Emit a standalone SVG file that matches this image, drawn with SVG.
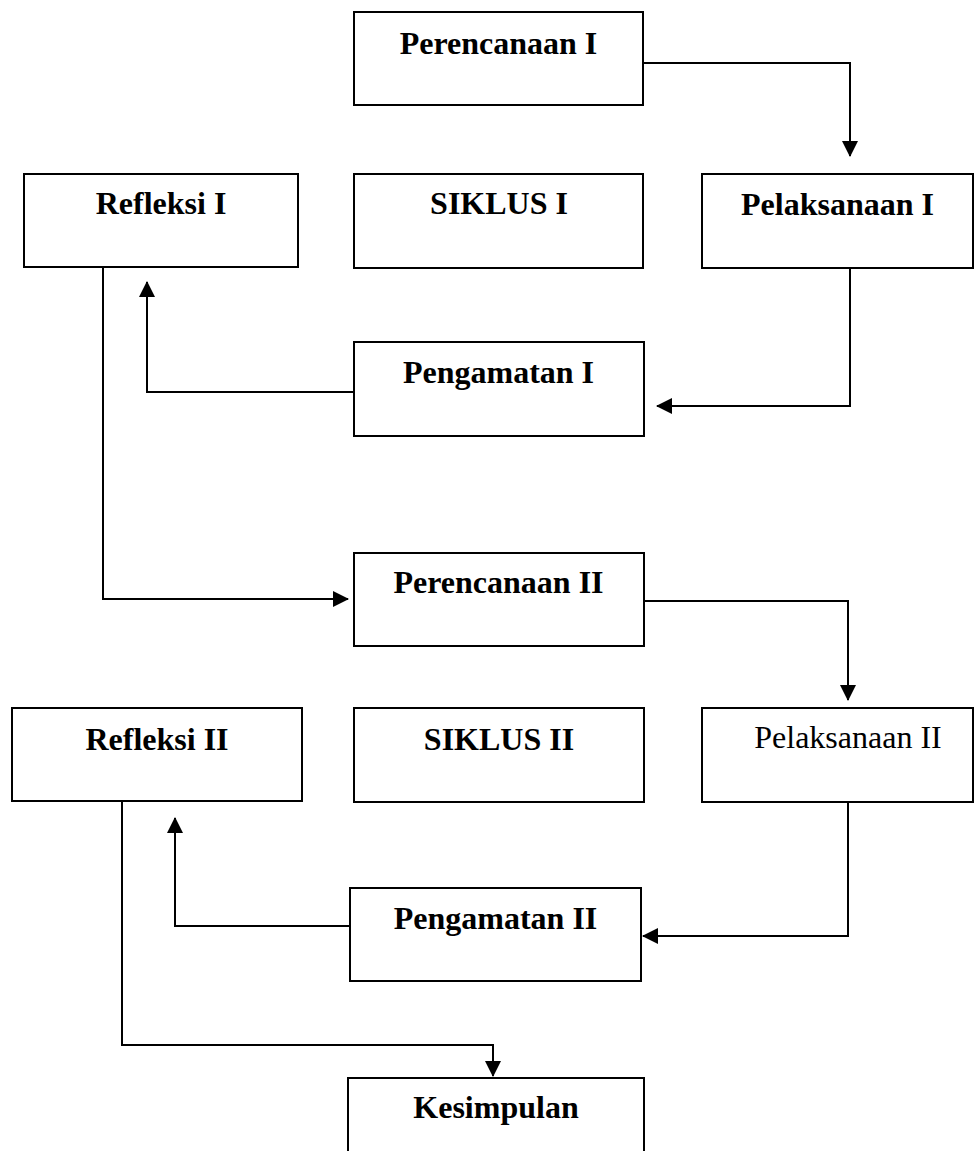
<svg xmlns="http://www.w3.org/2000/svg" width="980" height="1151" viewBox="0 0 980 1151">
<style>
rect.box{fill:#fff;stroke:#000;stroke-width:2}
text{font-family:"Liberation Serif","Times New Roman",serif;font-size:32px;text-anchor:middle;fill:#000}
text.b{font-weight:bold}
.conn path{fill:none;stroke:#000;stroke-width:2;marker-end:url(#arr)}
</style>
<defs>
<marker id="arr" markerUnits="userSpaceOnUse" markerWidth="16" markerHeight="16" refX="15" refY="8" orient="auto" viewBox="0 0 16 16">
<path d="M0,0 L16,8 L0,16 z" fill="#000"/>
</marker>
</defs>
<rect width="980" height="1151" fill="#fff"/>
<g id="perencanaan1"><rect class="box" x="354" y="12" width="289" height="93"/><text class="b" x="498.5" y="54">Perencanaan I</text></g>
<g id="refleksi1"><rect class="box" x="24" y="174" width="274" height="93"/><text class="b" x="161" y="214">Refleksi I</text></g>
<g id="siklus1"><rect class="box" x="354" y="174" width="289" height="94"/><text class="b" x="499" y="214">SIKLUS I</text></g>
<g id="pelaksanaan1"><rect class="box" x="702" y="174" width="271" height="94"/><text class="b" x="837.5" y="215">Pelaksanaan I</text></g>
<g id="pengamatan1"><rect class="box" x="354" y="342" width="290" height="94"/><text class="b" x="498.5" y="383">Pengamatan I</text></g>
<g id="perencanaan2"><rect class="box" x="354" y="553" width="290" height="93"/><text class="b" x="498.5" y="593">Perencanaan II</text></g>
<g id="refleksi2"><rect class="box" x="12" y="708" width="290" height="93"/><text class="b" x="157" y="750">Refleksi II</text></g>
<g id="siklus2"><rect class="box" x="354" y="708" width="290" height="94"/><text class="b" x="499" y="750">SIKLUS II</text></g>
<g id="pelaksanaan2"><rect class="box" x="702" y="708" width="271" height="94"/><text x="848" y="748">Pelaksanaan II</text></g>
<g id="pengamatan2"><rect class="box" x="350" y="888" width="291" height="93"/><text class="b" x="495.5" y="929">Pengamatan II</text></g>
<g id="kesimpulan"><rect class="box" x="348" y="1078" width="296" height="100"/><text class="b" x="496" y="1118">Kesimpulan</text></g>
<g class="conn" id="connectors">
<path d="M643,63 H850 V156"/>
<path d="M850,268 V406 H657"/>
<path d="M354,392 H147 V282"/>
<path d="M103,267 V599 H348"/>
<path d="M644,601 H848 V700"/>
<path d="M848,802 V936 H643"/>
<path d="M350,926 H175 V818"/>
<path d="M122,801 V1045 H493 V1076"/>
</g>
</svg>
